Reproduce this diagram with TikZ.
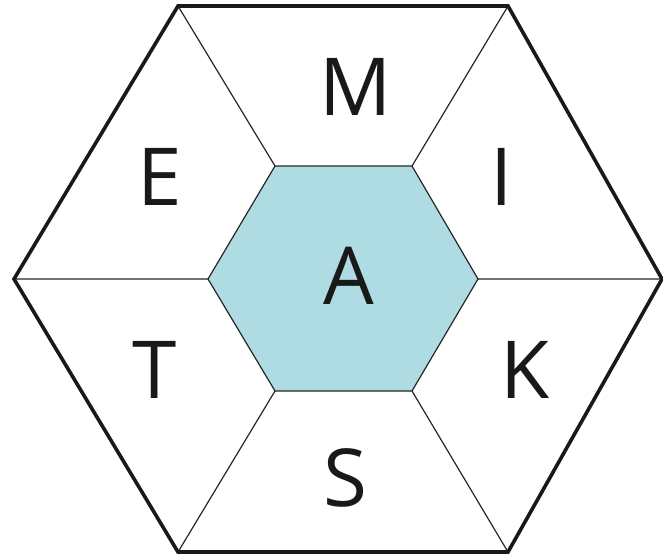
\documentclass[tikz,border=0pt]{standalone}
\usepackage{fontspec}
\setmainfont{Open Sans}
\definecolor{core}{HTML}{AEDCE2}
\begin{document}
\begin{tikzpicture}[x=1pt,y=-1pt,
  outer/.style={line width=3.6pt,line join=miter,black!90},
  spoke/.style={line width=1.2pt,black!85},
  letter/.style={font=\fontsize{80}{80}\selectfont,text=black!90,inner sep=0pt,anchor=base}]
\useasboundingbox (0,0) rectangle (663,557);
% outer vertices
\coordinate (o1) at (178,6);
\coordinate (o2) at (508,6);
\coordinate (o3) at (662,279);
\coordinate (o4) at (508,552);
\coordinate (o5) at (178,552);
\coordinate (o6) at (14,279);
% inner vertices
\coordinate (i1) at (275,166);
\coordinate (i2) at (412,166);
\coordinate (i3) at (478,279);
\coordinate (i4) at (412,391);
\coordinate (i5) at (275,391);
\coordinate (i6) at (208,279);
\fill[core] (i1) -- (i2) -- (i3) -- (i4) -- (i5) -- (i6) -- cycle;
\draw[spoke] (i1) -- (o1) (i2) -- (o2) (i3) -- (o3) (i4) -- (o4) (i5) -- (o5) (i6) -- (o6);
\draw[spoke] (i1) -- (i2) -- (i3) -- (i4) -- (i5) -- (i6) -- cycle;
\draw[outer] (o1) -- (o2) -- (o3) -- (o4) -- (o5) -- (o6) -- cycle;
\node[letter] (m) at (356,115) {M};
\node[letter] (e) at (160,205) {E};
\node[letter] (i) at (502,205) {I};
\node[letter] (a) at (349,304) {A};
\node[letter] (t) at (155,398) {T};
\node[letter] (k) at (525,398) {K};
\node[letter] (s) at (345,506) {S};
\end{tikzpicture}
\end{document}
